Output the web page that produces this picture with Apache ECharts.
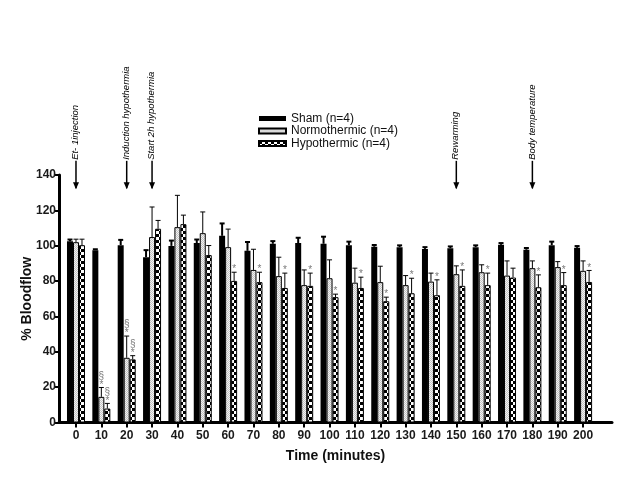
<!DOCTYPE html>
<html>
<head>
<meta charset="utf-8">
<script src="https://cdn.jsdelivr.net/npm/echarts@6/dist/echarts.min.js"></script>
<style>
html,body{margin:0;padding:0;background:#fff;}
#chart{width:641px;height:477px;}
</style>
</head>
<body>
<div id="chart"></div>
<script>
// ---- data ----
const categories = [0,10,20,30,40,50,60,70,80,90,100,110,120,130,140,150,160,170,180,190,200];
const shamValues = [102.5, 97.5, 100.3, 93.5, 99.9, 101.5, 105.6, 97.1, 101.1, 101.5, 101.1, 100.3, 99.4, 99.2, 98.2, 98.6, 99.2, 100.5, 97.7, 100.3, 98.8];
const shamErrors = [1, 0.5, 3, 4, 3, 2, 7, 5, 1.5, 3, 4, 2, 1, 1, 1, 1, 1, 1, 1, 2, 1];
const normoValues = [102, 14.5, 36.6, 104.9, 110.5, 107.1, 99.2, 86.3, 82.8, 77.7, 81.6, 79.1, 79.4, 77.7, 79.7, 83.9, 85, 83.1, 87.3, 87.9, 85.8];
const normoErrors = [1.7, 5.3, 12.3, 17, 18, 12, 10.2, 11.7, 10.7, 8.6, 10.4, 8.2, 9, 5.4, 4.8, 4.7, 4.2, 8.3, 4.1, 3.1, 5.6];
const hypoValues = [100.3, 7.9, 35.7, 109.6, 112.2, 94.7, 80.1, 79.4, 76.1, 77.3, 70.9, 76.1, 68.6, 73.1, 72, 77.3, 77.7, 82, 76.5, 77.7, 79.5];
const hypoErrors = [3.4, 2.9, 2.1, 4.7, 5.1, 5.4, 4.9, 5.6, 8.4, 7.2, 1.7, 6.1, 2.3, 8.5, 8.7, 9, 6.8, 5.3, 7, 7.1, 6.5];
const shamMarks = ['','','','','','','','','','','','','','','','','','','','',''];
const normoMarks = ['','§\n*','§\n*','','','','','','','','','','','','','','','','','',''];
const hypoMarks = ['','§\n*','§\n*','','','','*','*','*','*','*','*','*','*','*','*','*','','*','*','*'];
const eventTimes = [0, 20, 30, 150, 180];
const eventLabels = ['Et- 1injection', 'Induction hypothermia', 'Start 2h hypothermia', 'Rewarming', 'Body temperature'];
const seriesNames = ['Sham (n=4)', 'Normothermic (n=4)', 'Hypothermic (n=4)'];
const yTicks = {min: 0, max: 140, interval: 20};

// ---- patterns ----
function normoPattern() {
  const c = document.createElement('canvas');
  c.width = 2; c.height = 2;
  const g = c.getContext('2d');
  g.fillStyle = '#f2f2f2'; g.fillRect(0,0,2,2);
  g.fillStyle = '#c4c4c4'; g.fillRect(0,0,1,1); g.fillRect(1,1,1,1);
  return {image: c, repeat: 'repeat'};
}
function hypoPattern() {
  const c = document.createElement('canvas');
  c.width = 6; c.height = 6;
  const g = c.getContext('2d');
  g.fillStyle = '#ffffff'; g.fillRect(0,0,6,6);
  g.fillStyle = '#000000'; g.fillRect(0,0,3,3); g.fillRect(3,3,3,3);
  return {image: c, repeat: 'repeat'};
}

const FONT = "'Liberation Sans', Arial, sans-serif";

function errRender(vals, errs, marks, offset, lw) {
  return function (params, api) {
    const i = params.dataIndex;
    const x = api.value(0);
    const base = api.coord([x, vals[i]]);
    const top = api.coord([x, vals[i] + errs[i]]);
    const cx = base[0] + offset;
    const children = [
      {type: 'line', shape: {x1: cx, y1: base[1], x2: cx, y2: top[1]}, style: {stroke: '#000', lineWidth: lw}},
      {type: 'line', shape: {x1: cx - 2.5, y1: top[1], x2: cx + 2.5, y2: top[1]}, style: {stroke: '#000', lineWidth: lw}}
    ];
    if (marks[i]) {
      children.push({type: 'text', x: cx, y: top[1] + 2,
        style: {text: marks[i], fill: '#7a7a7a', fontSize: 10, lineHeight: 9, fontFamily: FONT,
                align: 'center', verticalAlign: 'bottom'}});
    }
    return {type: 'group', children: children};
  };
}

function eventRender(params, api) {
  const i = params.dataIndex;
  const x = api.value(0);
  const p1 = api.coord([x, 148]);
  const p2 = api.coord([x, 132.5]);
  const cx = p1[0];
  return {type: 'group', children: [
    {type: 'line', shape: {x1: cx, y1: p1[1], x2: cx, y2: p2[1]}, style: {stroke: '#000', lineWidth: 1.5}},
    {type: 'polygon', shape: {points: [[cx - 3, p2[1] - 6], [cx + 3, p2[1] - 6], [cx, p2[1] + 1]]}, style: {fill: '#000'}},
    {type: 'text', x: cx - 0.5, y: p1[1] - 1, rotation: Math.PI / 2,
      style: {text: eventLabels[i], fill: '#000', fontSize: 9.5, fontStyle: 'italic', fontFamily: FONT,
              align: 'left', verticalAlign: 'middle'}}
  ]};
}

const chart = echarts.init(document.getElementById('chart'), null, {renderer: 'canvas'});
const pair = (vals) => categories.map((c, i) => [c, vals[i]]);
const pairErr = (vals, errs) => categories.map((c, i) => [c, vals[i] + errs[i]]);

chart.setOption({
  animation: false,
  backgroundColor: '#fff',
  textStyle: {fontFamily: FONT},
  grid: {left: 59, right: 29, top: 175, bottom: 54.5},
  legend: {
    orient: 'vertical', left: 258, top: 112.5, padding: 0, itemWidth: 27, itemHeight: 5, itemGap: 0.5,
    icon: 'rect',
    data: seriesNames,
    textStyle: {fontSize: 12, lineHeight: 12, color: '#111', fontFamily: FONT}
  },
  xAxis: {
    type: 'value', min: -6.7, max: 211.4,
    name: 'Time (minutes)', nameLocation: 'middle', nameGap: 27, nameMoveOverlap: false,
    nameTextStyle: {fontSize: 14, fontWeight: 'bold', color: '#111', fontFamily: FONT},
    axisLine: {onZero: false, lineStyle: {color: '#000', width: 3}},
    axisTick: {show: true, length: 5, lineStyle: {color: '#000', width: 2}, customValues: categories},
    axisLabel: {customValues: categories, fontSize: 12, fontWeight: 'bold', color: '#1a1a1a', margin: 7, fontFamily: FONT},
    splitLine: {show: false}
  },
  yAxis: {
    type: 'value', min: yTicks.min, max: yTicks.max, interval: yTicks.interval,
    name: '% Bloodflow', nameLocation: 'middle', nameGap: 25, nameMoveOverlap: false,
    nameTextStyle: {fontSize: 14, fontWeight: 'bold', color: '#111', fontFamily: FONT},
    axisLine: {show: true, onZero: false, lineStyle: {color: '#000', width: 3}},
    axisTick: {show: true, length: 5, lineStyle: {color: '#000', width: 2}},
    axisLabel: {fontSize: 12, fontWeight: 'bold', color: '#1a1a1a', margin: 3, fontFamily: FONT},
    splitLine: {show: false}
  },
  series: [
    {name: seriesNames[0], type: 'bar', data: pair(shamValues), barWidth: 6, barGap: '0%',
      itemStyle: {color: '#000', borderColor: '#000', borderWidth: 0}},
    {name: seriesNames[1], type: 'bar', data: pair(normoValues), barWidth: 6, barGap: '0%',
      itemStyle: {color: normoPattern(), borderColor: '#000', borderWidth: 1}},
    {name: seriesNames[2], type: 'bar', data: pair(hypoValues), barWidth: 6, barGap: '0%',
      itemStyle: {color: hypoPattern(), borderColor: '#000', borderWidth: 1}},
    {type: 'custom', data: pairErr(shamValues, shamErrors), renderItem: errRender(shamValues, shamErrors, shamMarks, -6, 2), z: 5},
    {type: 'custom', data: pairErr(normoValues, normoErrors), renderItem: errRender(normoValues, normoErrors, normoMarks, 0, 1), z: 5},
    {type: 'custom', data: pairErr(hypoValues, hypoErrors), renderItem: errRender(hypoValues, hypoErrors, hypoMarks, 6, 1), z: 5},
    {type: 'custom', data: eventTimes.map(t => [t, 140]), renderItem: eventRender, clip: false, z: 6}
  ]
});
</script>
</body>
</html>
